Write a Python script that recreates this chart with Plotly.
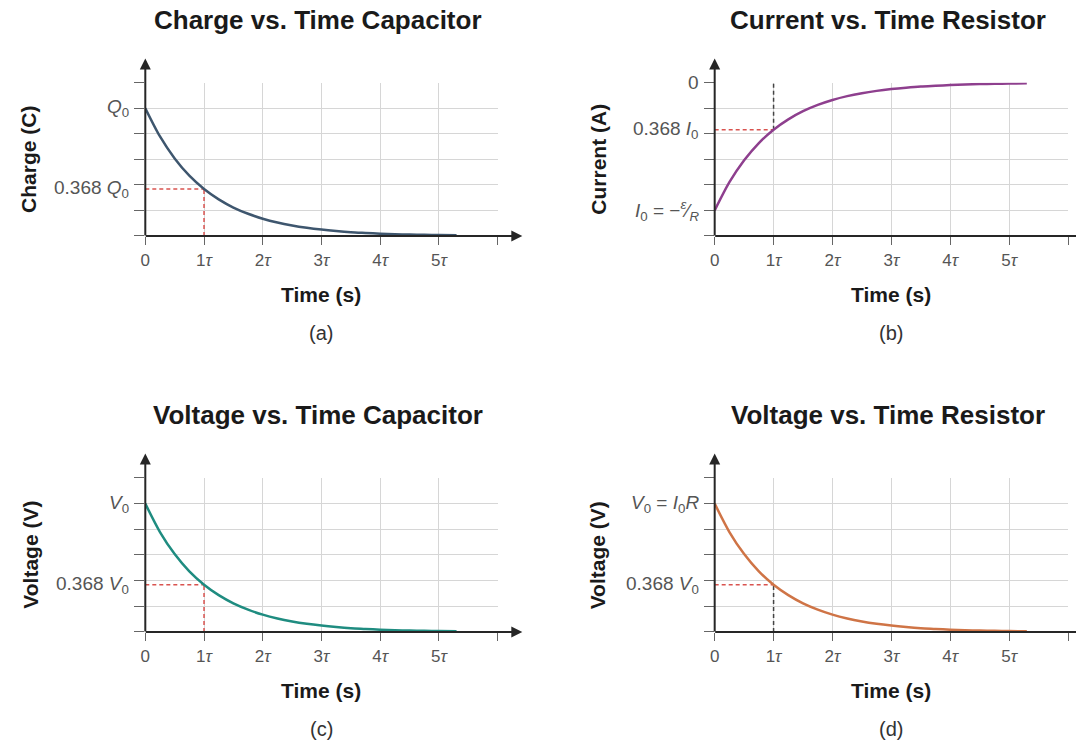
import plotly.graph_objects as go

# ---------------- data ----------------
t_tau = [0, 0.25, 0.5, 0.75, 1.0, 1.25, 1.5, 1.75, 2.0, 2.25, 2.5, 2.75, 3.0,
         3.25, 3.5, 3.75, 4.0, 4.25, 4.5, 4.75, 5.0, 5.3]
charge_q = [1.00, 0.779, 0.607, 0.472, 0.368, 0.287, 0.223, 0.174, 0.135, 0.105, 0.082, 0.064, 0.050,
            0.039, 0.030, 0.024, 0.018, 0.014, 0.011, 0.009, 0.007, 0.005]
current_i = [-1.00, -0.779, -0.607, -0.472, -0.368, -0.287, -0.223, -0.174, -0.135, -0.105, -0.082, -0.064, -0.050,
             -0.039, -0.030, -0.024, -0.018, -0.014, -0.011, -0.009, -0.007, -0.005]
voltage_c = [1.00, 0.779, 0.607, 0.472, 0.368, 0.287, 0.223, 0.174, 0.135, 0.105, 0.082, 0.064, 0.050,
             0.039, 0.030, 0.024, 0.018, 0.014, 0.011, 0.009, 0.007, 0.005]
voltage_r = [1.00, 0.779, 0.607, 0.472, 0.368, 0.287, 0.223, 0.174, 0.135, 0.105, 0.082, 0.064, 0.050,
             0.039, 0.030, 0.024, 0.018, 0.014, 0.011, 0.009, 0.007, 0.005]

x_tickvals = [0, 1, 2, 3, 4, 5, 6]
x_ticktext = ["0", "1<i>τ</i>", "2<i>τ</i>", "3<i>τ</i>", "4<i>τ</i>", "5<i>τ</i>", ""]

tau_mark = 1.0
frac_mark = 0.368

titles = ["Charge vs. Time Capacitor", "Current vs. Time Resistor",
          "Voltage vs. Time Capacitor", "Voltage vs. Time Resistor"]
y_titles = ["Charge (C)", "Current (A)", "Voltage (V)", "Voltage (V)"]
sub_labels = ["(a)", "(b)", "(c)", "(d)"]

y_label_vals = [[1.0, 0.368], [0.0, -0.368, -1.0], [1.0, 0.368], [1.0, 0.368]]
y_label_text = [
    ["<i>Q</i><sub>0</sub>", "0.368 <i>Q</i><sub>0</sub>"],
    ["0", "0.368 <i>I</i><sub>0</sub>", "<i>I</i><sub>0</sub> = −<sup><i>ε</i></sup>⁄<sub><i>R</i></sub>"],
    ["<i>V</i><sub>0</sub>", "0.368 <i>V</i><sub>0</sub>"],
    ["<i>V</i><sub>0</sub> = <i>I</i><sub>0</sub><i>R</i>", "0.368 <i>V</i><sub>0</sub>"],
]
y_ranges = [[0, 1.2], [-1.2, 0], [0, 1.2], [0, 1.2]]
series = [charge_q, current_i, voltage_c, voltage_r]
colors = ["#3e566e", "#8e3f8e", "#1f8c80", "#cf7446"]
vert_dash_colors = ["#d9534f", "#444444", "#d9534f", "#444444"]

# ---------------- layout geometry ----------------
x_domains = [[0.1310, 0.4600], [0.66264, 0.99257], [0.1310, 0.4600], [0.66264, 0.99257]]
y_domains = [[0.68280, 0.88884], [0.68280, 0.88884], [0.15054, 0.35753], [0.15054, 0.35753]]
y_title_x = [0.022, 0.554, 0.024, 0.554]
ARROW_X = 6.42
ARROW_Y_EXT = 0.19

FONT = "Liberation Sans, Arial, Helvetica, sans-serif"
GRID = "#d6d6d6"
AXIS = "#262626"

fig = go.Figure()
annotations = []
layout = dict(
    width=1076, height=744,
    margin=dict(l=0, r=0, t=0, b=0),
    paper_bgcolor="white", plot_bgcolor="white",
    showlegend=False,
    font=dict(family=FONT),
)

for i in range(4):
    n = "" if i == 0 else str(i + 1)
    xa, ya = "x" + n, "y" + n
    y0, y1 = y_ranges[i]
    base = y0
    mark_y = -frac_mark if i == 1 else frac_mark

    # dashed guide lines
    fig.add_trace(go.Scatter(x=[0, tau_mark], y=[mark_y, mark_y], mode="lines",
                             line=dict(color="#d9534f", width=1.5, dash="4px,3px"),
                             xaxis=xa, yaxis=ya, hoverinfo="skip"))
    vy = [mark_y, y1] if i == 1 else [base, mark_y]
    fig.add_trace(go.Scatter(x=[tau_mark, tau_mark], y=vy, mode="lines",
                             line=dict(color=vert_dash_colors[i], width=1.5, dash="4px,3px"),
                             xaxis=xa, yaxis=ya, hoverinfo="skip"))
    # curve
    fig.add_trace(go.Scatter(x=t_tau, y=series[i], mode="lines",
                             line=dict(color=colors[i], width=2.5, shape="spline", smoothing=0.8),
                             xaxis=xa, yaxis=ya, hoverinfo="skip"))

    layout["xaxis" + n] = dict(
        domain=x_domains[i], anchor=ya, range=[0, 6],
        tickmode="array", tickvals=x_tickvals, ticktext=x_ticktext,
        ticks="outside", ticklen=8, tickcolor="#666", tickwidth=1,
        showgrid=True, gridcolor=GRID, gridwidth=1,
        zeroline=False, showline=False,
        tickfont=dict(family=FONT, size=17, color="#555"),
        ticklabelstandoff=1,
    )
    layout["yaxis" + n] = dict(
        domain=y_domains[i], anchor=xa, range=[y0, y1],
        tick0=0, dtick=0.2,
        ticks="outside", ticklen=10, tickcolor="#666", tickwidth=1,
        showticklabels=False,
        showgrid=True, gridcolor=GRID, gridwidth=1,
        zeroline=False, showline=False,
    )

    # axis lines with arrows
    annotations.append(dict(x=ARROW_X, y=base, ax=0, ay=base, xref=xa, yref=ya,
                            axref=xa, ayref=ya, text="", showarrow=True, borderpad=0,
                            arrowhead=2, arrowsize=1.1, arrowwidth=2, arrowcolor=AXIS,
                            standoff=0, startstandoff=0))
    annotations.append(dict(x=0, y=y1 + ARROW_Y_EXT, ax=0, ay=base, xref=xa, yref=ya,
                            axref=xa, ayref=ya, text="", showarrow=True, borderpad=0,
                            arrowhead=2, arrowsize=1.1, arrowwidth=2, arrowcolor=AXIS,
                            standoff=0, startstandoff=0))

    # y labels
    for v, txt in zip(y_label_vals[i], y_label_text[i]):
        annotations.append(dict(x=0, y=v, xref=xa, yref=ya, text=txt, showarrow=False,
                                xanchor="right", yanchor="middle", xshift=-14,
                                font=dict(family=FONT, size=19, color="#555")))

    # titles and labels
    annotations.append(dict(x=0.49, y=1, xref=xa + " domain", yref=ya + " domain",
                            text="<b>" + titles[i] + "</b>", showarrow=False,
                            xanchor="center", yanchor="middle", yshift=63,
                            font=dict(family=FONT, size=26, color="#1a1a1a")))
    annotations.append(dict(x=0.5, y=0, xref=xa + " domain", yref=ya + " domain",
                            text="<b>Time (s)</b>", showarrow=False,
                            xanchor="center", yanchor="middle", yshift=-59,
                            font=dict(family=FONT, size=21, color="#1a1a1a")))
    annotations.append(dict(x=0.5, y=0, xref=xa + " domain", yref=ya + " domain",
                            text=sub_labels[i], showarrow=False,
                            xanchor="center", yanchor="middle", yshift=-97,
                            font=dict(family=FONT, size=20, color="#333")))
    annotations.append(dict(x=y_title_x[i], y=0.5, xref="paper", yref=ya + " domain",
                            text="<b>" + y_titles[i] + "</b>", showarrow=False,
                            textangle=-90, xanchor="center", yanchor="middle",
                            font=dict(family=FONT, size=21, color="#1a1a1a")))

layout["annotations"] = annotations
fig.update_layout(**layout)
fig.write_html("out.html",
               config={"displayModeBar": False},
               post_script="document.body.style.margin='0px';document.body.style.padding='0px';")
